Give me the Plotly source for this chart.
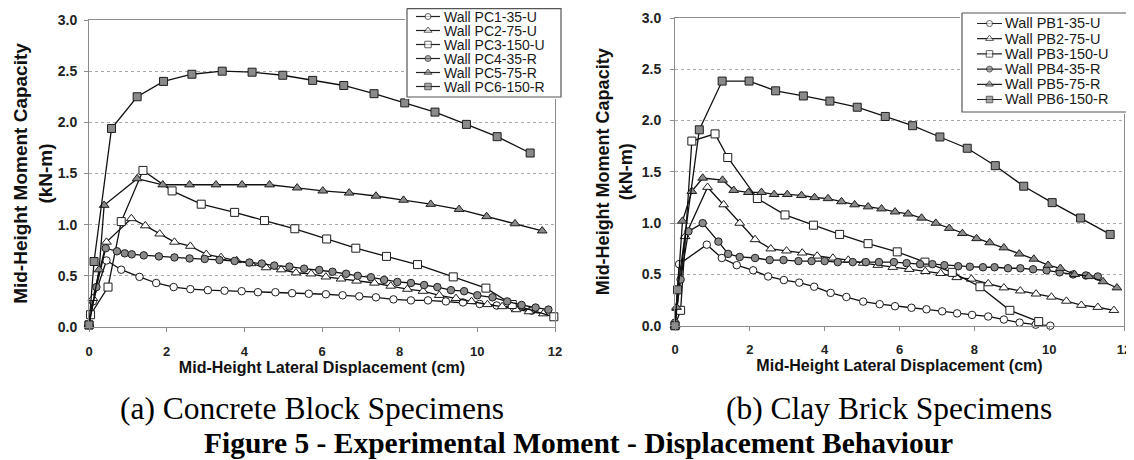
import plotly.graph_objects as go

# ---------------- data : (a) concrete block specimens ----------------
pc_names = ["Wall PC1-35-U", "Wall PC2-75-U", "Wall PC3-150-U",
            "Wall PC4-35-R", "Wall PC5-75-R", "Wall PC6-150-R"]
pc1_x = [0, 0.1, 0.45, 0.83, 1.3, 1.73, 2.18, 2.61, 3.06, 3.49, 3.93, 4.35, 4.8, 5.23,
         5.66, 6.1, 6.53, 6.96, 7.39, 7.84, 8.29, 8.73, 9.19, 9.63, 10.06, 10.5, 10.94, 11.4]
pc1_y = [0.02, 0.25, 0.65, 0.56, 0.49, 0.43, 0.39, 0.37, 0.36, 0.355, 0.35, 0.34, 0.34, 0.33,
         0.325, 0.32, 0.31, 0.30, 0.29, 0.27, 0.26, 0.26, 0.25, 0.24, 0.225, 0.21, 0.19, 0.16]
pc2_x = [0, 0.1, 0.45, 1.09, 1.45, 1.82, 2.2, 2.61, 3.02, 3.4, 3.8, 4.17, 4.56, 4.95, 5.33,
         5.72, 6.1, 6.49, 6.89, 7.35, 7.77, 8.2, 8.6, 9.02, 9.45, 9.85, 10.26, 10.64, 11.0,
         11.33, 11.7]
pc2_y = [0.02, 0.28, 0.83, 1.06, 0.99, 0.91, 0.83, 0.79, 0.71, 0.68, 0.65, 0.62, 0.58, 0.56,
         0.53, 0.52, 0.49, 0.47, 0.45, 0.43, 0.40, 0.37, 0.35, 0.31, 0.28, 0.25, 0.22, 0.20,
         0.17, 0.15, 0.13]
pc3_x = [0, 0.04, 0.49, 0.83, 1.39, 2.14, 2.89, 3.75, 4.52, 5.3, 6.12, 6.87, 7.66, 8.46,
         9.38, 10.22, 10.9, 11.97]
pc3_y = [0.02, 0.12, 0.39, 1.03, 1.53, 1.33, 1.20, 1.12, 1.04, 0.96, 0.86, 0.77, 0.69, 0.61,
         0.49, 0.38, 0.22, 0.10]
pc4_x = [0, 0.19, 0.43, 0.72, 0.92, 1.1, 1.41, 1.8, 2.2, 2.59, 2.98, 3.36, 3.75, 4.13, 4.45,
         4.77, 5.16, 5.54, 5.93, 6.27, 6.62, 6.92, 7.26, 7.6, 7.94, 8.29, 8.63, 8.97, 9.32,
         9.66, 10.0, 10.39, 10.77, 11.14, 11.5, 11.83]
pc4_y = [0.02, 0.39, 0.77, 0.74, 0.72, 0.71, 0.70, 0.69, 0.68, 0.67, 0.665, 0.655, 0.645,
         0.63, 0.62, 0.60, 0.59, 0.57, 0.557, 0.54, 0.52, 0.50, 0.486, 0.46, 0.44, 0.43, 0.41,
         0.39, 0.36, 0.35, 0.31, 0.29, 0.25, 0.215, 0.19, 0.17]
pc5_x = [0, 0.26, 0.39, 1.24, 1.9, 2.59, 3.27, 3.94, 4.65, 5.36, 6.02, 6.70, 7.39, 8.1, 8.8,
         9.53, 10.24, 10.97, 11.67]
pc5_y = [0.03, 0.56, 1.19, 1.45, 1.39, 1.39, 1.39, 1.39, 1.39, 1.36, 1.33, 1.31, 1.28, 1.24,
         1.20, 1.15, 1.08, 1.01, 0.94]
pc6_x = [0, 0.13, 0.58, 1.24, 1.92, 2.65, 3.43, 4.2, 4.99, 5.76, 6.56, 7.34, 8.13, 8.91,
         9.72, 10.51, 11.36]
pc6_y = [0.02, 0.64, 1.94, 2.25, 2.40, 2.47, 2.50, 2.49, 2.46, 2.41, 2.36, 2.28, 2.19, 2.10,
         1.98, 1.86, 1.70]

# ---------------- data : (b) clay brick specimens ----------------
pb_names = ["Wall PB1-35-U", "Wall PB2-75-U", "Wall PB3-150-U",
            "Wall PB4-35-R", "Wall PB5-75-R", "Wall PB6-150-R"]
pb1_x = [0, 0.11, 0.85, 1.25, 1.65, 2.09, 2.49, 2.91, 3.32, 3.72, 4.16, 4.58, 5.03, 5.47,
         5.88, 6.32, 6.72, 7.14, 7.54, 7.94, 8.37, 8.79, 9.21, 9.64, 10.03]
pb1_y = [0.0, 0.60, 0.79, 0.66, 0.59, 0.54, 0.48, 0.445, 0.42, 0.38, 0.32, 0.28, 0.235, 0.21,
         0.19, 0.175, 0.16, 0.14, 0.12, 0.105, 0.09, 0.06, 0.03, 0.01, 0.0]
pb2_x = [0, 0.05, 0.27, 0.87, 1.3, 1.73, 2.14, 2.56, 2.98, 3.4, 3.8, 4.22, 4.63, 5.03, 5.42,
         5.82, 6.26, 6.69, 7.1, 7.53, 7.92, 8.37, 8.79, 9.23, 9.65, 10.06, 10.46, 10.86, 11.3,
         11.73]
pb2_y = [0.0, 0.17, 0.87, 1.35, 1.18, 1.0, 0.84, 0.75, 0.73, 0.71, 0.68, 0.66, 0.64, 0.61,
         0.59, 0.57, 0.55, 0.53, 0.51, 0.47, 0.455, 0.41, 0.37, 0.34, 0.31, 0.28, 0.24, 0.20,
         0.18, 0.15]
pb3_x = [0, 0.15, 0.45, 1.07, 1.41, 2.2, 2.94, 3.7, 4.4, 5.16, 5.94, 6.68, 7.41, 8.15, 8.95,
         9.72]
pb3_y = [0.0, 0.15, 1.80, 1.87, 1.64, 1.24, 1.08, 0.98, 0.89, 0.80, 0.72, 0.62, 0.52, 0.38,
         0.15, 0.04]
pb4_x = [0, 0.15, 0.36, 0.74, 1.16, 1.42, 1.73, 2.14, 2.53, 2.9, 3.3, 3.65, 4.0, 4.35, 4.75,
         5.1, 5.45, 5.85, 6.19, 6.55, 6.88, 7.2, 7.57, 7.88, 8.23, 8.54, 8.9, 9.23, 9.57, 9.93,
         10.28, 10.64, 10.98, 11.3]
pb4_y = [0.03, 0.45, 0.92, 1.0, 0.82, 0.70, 0.67, 0.66, 0.64, 0.64, 0.63, 0.63, 0.63, 0.62,
         0.62, 0.62, 0.62, 0.62, 0.61, 0.60, 0.60, 0.59, 0.58, 0.575, 0.57, 0.57, 0.56, 0.56,
         0.55, 0.54, 0.52, 0.50, 0.49, 0.48]
pb5_x = [0, 0.04, 0.2, 0.45, 0.74, 1.27, 1.57, 1.96, 2.31, 2.65, 3.0, 3.38, 3.73, 4.09, 4.45,
         4.8, 5.16, 5.52, 5.88, 6.23, 6.59, 6.97, 7.33, 7.68, 8.06, 8.41, 8.79, 9.2, 9.59, 9.97,
         10.3, 10.68, 11.06, 11.44, 11.81]
pb5_y = [0.0, 0.18, 1.02, 1.31, 1.44, 1.42, 1.32, 1.30, 1.30, 1.28, 1.28, 1.27, 1.25, 1.24,
         1.21, 1.18, 1.16, 1.14, 1.11, 1.09, 1.05, 1.0, 0.95, 0.90, 0.85, 0.81, 0.76, 0.70,
         0.65, 0.59, 0.56, 0.50, 0.48, 0.43, 0.37]
pb6_x = [0, 0.07, 0.65, 1.26, 1.98, 2.69, 3.43, 4.14, 4.87, 5.62, 6.35, 7.08, 7.81, 8.56,
         9.32, 10.08, 10.84, 11.63]
pb6_y = [0.0, 0.35, 1.91, 2.385, 2.385, 2.29, 2.24, 2.19, 2.13, 2.04, 1.95, 1.84, 1.73, 1.56,
         1.36, 1.20, 1.05, 0.89]

x_ticks = [0, 2, 4, 6, 8, 10, 12]
y_ticks = [0.0, 0.5, 1.0, 1.5, 2.0, 2.5, 3.0]
x_title = "Mid-Height Lateral Displacement (cm)"
y_title = "Mid-Height Moment Capacity<br>(kN-m)"
captions = ["(a) Concrete Block Specimens", "(b) Clay Brick Specimens"]
fig_title = "Figure 5 - Experimental Moment - Displacement Behaviour"

# ---------------- styles ----------------
W, H = 1134, 460
OFF = 8          # the page body has an 8px default margin: place things in window pixels
GRAY = "#8a8a8a"
EDGE = "#1e1e1e"
AX = "#8c8c8c"
SANS = "Arial, Liberation Sans, sans-serif"
SERIF = "Times New Roman, Liberation Serif, serif"
symbols = ["circle", "triangle-up", "square", "circle", "triangle-up", "square"]
fills = ["white", "white", "white", GRAY, GRAY, GRAY]
msizes = [7.5, 8.5, 8, 7.5, 8.5, 8]


def px_x(p):
    return (p - OFF) / W


def px_y(p):
    return 1 - (p - OFF) / H


pc_series = [(pc1_x, pc1_y), (pc2_x, pc2_y), (pc3_x, pc3_y),
             (pc4_x, pc4_y), (pc5_x, pc5_y), (pc6_x, pc6_y)]
pb_series = [(pb1_x, pb1_y), (pb2_x, pb2_y), (pb3_x, pb3_y),
             (pb4_x, pb4_y), (pb5_x, pb5_y), (pb6_x, pb6_y)]

fig = go.Figure()

for series, names, xa, ya in [(pc_series, pc_names, "x", "y"),
                              (pb_series, pb_names, "x2", "y2")]:
    for i, ((xs, ys), nm) in enumerate(zip(series, names)):
        fig.add_trace(go.Scatter(
            x=xs, y=ys, name=nm, mode="lines+markers", xaxis=xa, yaxis=ya,
            showlegend=False, cliponaxis=False,
            line=dict(color="#111111", width=1.3),
            marker=dict(symbol=symbols[i], size=msizes[i], color=fills[i],
                        line=dict(color=EDGE, width=1))))

# ---------------- custom legends (row pitch of the original) ----------------
legend_specs = [
    dict(names=pc_names, xa="x3", ya="y3", l=407, r=561, t=8.6, b=97,
         row0=16.5, pitch=14.0, s0=416, s1=440, tx=442, fs=14,
         dom_x=(405, 563), dom_y=(8, 99)),
    dict(names=pb_names, xa="x4", ya="y4", l=962, r=1132, t=13, b=112,
         row0=23.5, pitch=15.2, s0=977, s1=1002, tx=1003, fs=14.5,
         dom_x=(960, 1133.5), dom_y=(11, 114)),
]
annotations = []
for k, spec in enumerate(legend_specs):
    fig.add_trace(go.Scatter(
        x=[spec["l"], spec["r"], spec["r"], spec["l"], spec["l"]],
        y=[spec["t"], spec["t"], spec["b"], spec["b"], spec["t"]],
        mode="lines", fill="toself", fillcolor="white",
        line=dict(color="#555555", width=1.2), hoverinfo="skip",
        showlegend=False, xaxis=spec["xa"], yaxis=spec["ya"]))
    for i, nm in enumerate(spec["names"]):
        ry = spec["row0"] + i * spec["pitch"]
        mid = (spec["s0"] + spec["s1"]) / 2
        fig.add_trace(go.Scatter(
            x=[spec["s0"], mid, spec["s1"]], y=[ry, ry, ry],
            mode="lines+markers", showlegend=False, hoverinfo="skip",
            xaxis=spec["xa"], yaxis=spec["ya"], cliponaxis=False,
            line=dict(color="#222222", width=1.2),
            marker=dict(symbol=symbols[i], size=[0, msizes[i] - 1.5, 0], color=fills[i],
                        line=dict(color=EDGE, width=[0, 1, 0]))))
        annotations.append(dict(
            x=spec["tx"], y=ry, xref=spec["xa"], yref=spec["ya"], text=nm,
            showarrow=False, xanchor="left", yanchor="middle",
            font=dict(family=SANS, size=spec["fs"], color="#1a1a1a")))


# ---------------- axes ----------------
def base_axis(fs):
    return dict(showline=True, linecolor=AX, linewidth=1, mirror=True, automargin=False,
                ticks="outside", ticklen=4, tickcolor=AX, zeroline=False,
                ticklabeloverflow="allow",
                tickfont=dict(family=SANS, size=fs, color="#222222", weight="bold"))


def xcfg():
    return dict(range=[0, 12], tickvals=x_ticks, showgrid=False, ticklabelstandoff=8,
                title=dict(text=x_title, standoff=2,
                           font=dict(family=SANS, size=16, color="#111111", weight="bold")),
                **base_axis(13))


def ycfg(title_size, lab_gap, title_gap):
    return dict(range=[0, 3], tickvals=y_ticks, tickformat=".1f", showgrid=True,
                gridcolor="#a8a8a8", griddash="dot", gridwidth=1, ticklabelstandoff=lab_gap,
                title=dict(text=y_title, standoff=title_gap,
                           font=dict(family=SANS, size=title_size, color="#111111",
                                     weight="bold")),
                **base_axis(14))


hidden = dict(visible=False, showgrid=False, zeroline=False, fixedrange=True,
              automargin=False)
sx3, sy3 = legend_specs[0]["dom_x"], legend_specs[0]["dom_y"]
sx4, sy4 = legend_specs[1]["dom_x"], legend_specs[1]["dom_y"]

fig.update_layout(
    width=W, height=H, margin=dict(l=0, r=0, t=0, b=0, autoexpand=False),
    paper_bgcolor="white", plot_bgcolor="white",
    xaxis=dict(domain=[px_x(89), px_x(555)], anchor="y", **xcfg()),
    yaxis=dict(domain=[px_y(327), px_y(20)], anchor="x", **ycfg(19, 4, 0)),
    xaxis2=dict(domain=[px_x(675), px_x(1124)], anchor="y2", **xcfg()),
    yaxis2=dict(domain=[px_y(325.7), px_y(18)], anchor="x2", **ycfg(18, 6, 4)),
    xaxis3=dict(domain=[px_x(sx3[0]), px_x(sx3[1])], range=list(sx3), anchor="y3", **hidden),
    yaxis3=dict(domain=[px_y(sy3[1]), px_y(sy3[0])], range=[sy3[1], sy3[0]], anchor="x3",
                **hidden),
    xaxis4=dict(domain=[px_x(sx4[0]), px_x(sx4[1])], range=list(sx4), anchor="y4", **hidden),
    yaxis4=dict(domain=[px_y(sy4[1]), px_y(sy4[0])], range=[sy4[1], sy4[0]], anchor="x4",
                **hidden),
    showlegend=False,
)

for cap, cx in zip(captions, [312, 889]):
    annotations.append(dict(x=px_x(cx), y=px_y(408), xref="paper", yref="paper",
                            text=cap, showarrow=False, xanchor="center", yanchor="middle",
                            font=dict(family=SERIF, size=31.5, color="black")))
annotations.append(dict(x=px_x(578), y=px_y(443), xref="paper", yref="paper",
                        text=fig_title, showarrow=False, xanchor="center", yanchor="middle",
                        font=dict(family=SERIF, size=29.5, color="black", weight="bold")))
fig.update_layout(annotations=annotations)

fig.write_html("out.html")
